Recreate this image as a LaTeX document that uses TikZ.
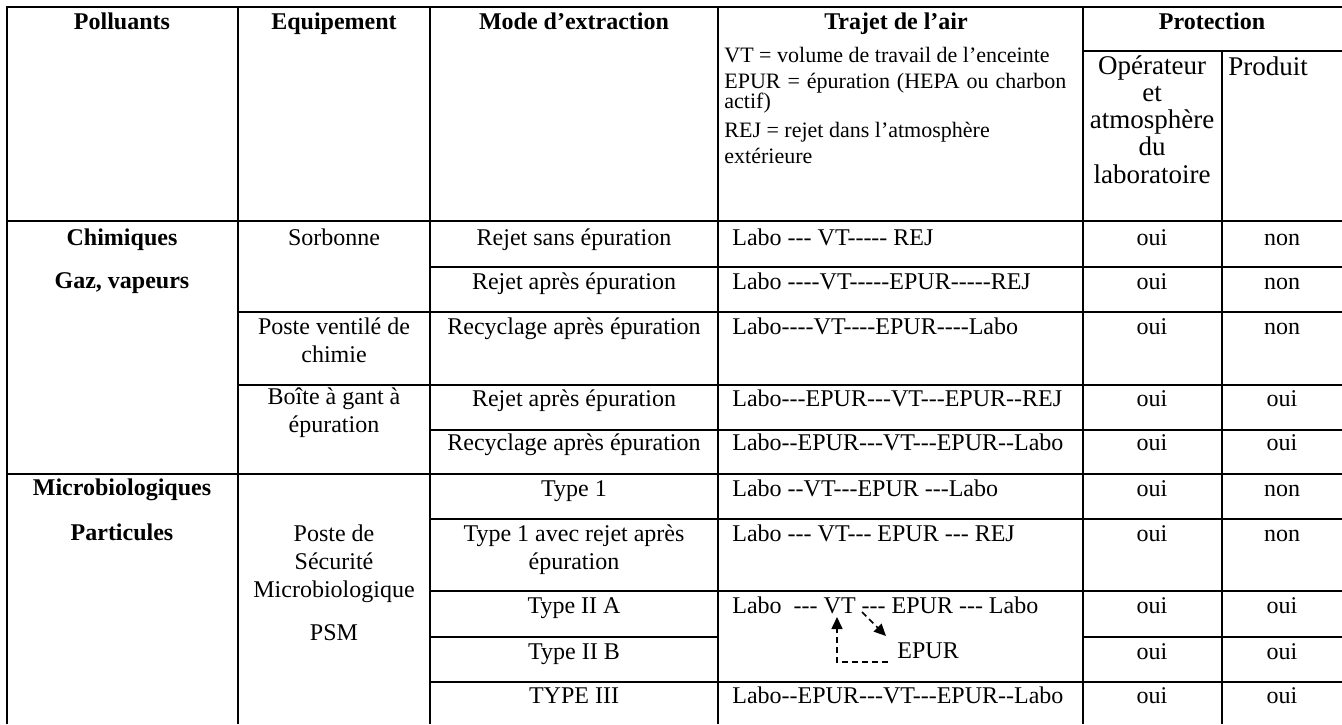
\documentclass[tikz,border=0pt]{standalone}
\usepackage{fontspec}
\setmainfont{Liberation Serif}
\newfontfamily\trfont{Liberation Serif}
\usetikzlibrary{arrows.meta}
\newcommand*{\twelve}{\fontsize{12}{13.8}\selectfont}

\begin{document}
\begin{tikzpicture}[x=0.5pt,y=-0.5pt,
    rule/.style={line width=1.1pt},
    hd/.style={font=\twelve\bfseries,anchor=base,inner sep=0pt,align=center},
    cell/.style={font=\twelve,anchor=base,inner sep=0pt,align=center},
    sub/.style={font=\fontsize{13.5}{13.6}\selectfont,anchor=base,inner sep=0pt,align=center},
    leg/.style={font=\fontsize{11}{12}\selectfont,anchor=base west,inner sep=0pt},
    trajet/.style={font=\twelve\trfont,anchor=base west,inner sep=0pt},
    flow/.style={dash pattern=on 3pt off 2pt,line width=0.8pt,-{Triangle[length=6pt,width=5.5pt]}}]
  \useasboundingbox (0,0) rectangle (1342,724);
  % grid of the table
  \draw[rule] (7,724) -- (7,7) -- (1342,7);
  \draw[rule] (238,7) -- (238,724) (430,7) -- (430,724)
    (718,7) -- (718,724) (1083,7) -- (1083,724) (1222,51) -- (1222,724);
  \draw[rule] (1083,51) -- (1342,51) (7,221) -- (1342,221) (430,267) -- (1342,267)
    (238,312) -- (1342,312) (238,385) -- (1342,385) (430,430) -- (1342,430)
    (7,474) -- (1342,474) (430,519) -- (1342,519) (430,591) -- (1342,591)
    (430,637) -- (718,637) (1083,637) -- (1342,637) (430,682) -- (1342,682);
  % header
  \node[hd] (pol) at (122,29) {Polluants};
  \node[hd] (equ) at (334,29) {Equipement};
  \node[hd] (mode) at (574,29) {Mode d’extraction};
  \node[hd] (traj) at (896,29) {Trajet de l’air};
  \node[hd] (prot) at (1212,29) {Protection};
  \node[leg] (lvt) at (724,62) {VT = volume de travail de l’enceinte};
  \node[leg] (lep) at (724,88) {\makebox[171pt][s]{EPUR = épuration (HEPA ou charbon}};
  \node[leg] (lep2) at (724,108) {actif)};
  \node[leg] (lrej) at (724,137) {REJ = rejet dans l’atmosphère};
  \node[leg] (lrej2) at (724,163) {extérieure};
  \node[sub] (oper) at (1152,183) {Opérateur\\et\\atmosphère\\du\\laboratoire};
  \node[sub,anchor=base west] (prod) at (1228,75) {Produit};
  % polluants
  \node[hd] (chim) at (122,245) {Chimiques};
  \node[hd] (gaz) at (122,288) {Gaz, vapeurs};
  \node[hd] (micro) at (122,495) {Microbiologiques};
  \node[hd] (part) at (122,540) {Particules};
  % equipement
  \node[cell] (sorb) at (334,245) {Sorbonne};
  \node[cell] (pvc) at (334,362) {Poste ventilé de\\chimie};
  \node[cell] (bag) at (334,432) {Boîte à gant à\\épuration};
  \node[cell] (psm) at (334,597) {Poste de\\Sécurité\\Microbiologique};
  \node[cell] (psm2) at (334,640) {PSM};
  % mode d'extraction
  \node[cell] (m1) at (574,245) {Rejet sans épuration};
  \node[cell] (m2) at (574,289) {Rejet après épuration};
  \node[cell] (m3) at (574,334) {Recyclage après épuration};
  \node[cell] (m4) at (574,406) {Rejet après épuration};
  \node[cell] (m5) at (574,450) {Recyclage après épuration};
  \node[cell] (m6) at (574,496) {Type 1};
  \node[cell] (m7) at (574,569) {Type 1 avec rejet après\\épuration};
  \node[cell] (m8) at (574,613) {Type II A};
  \node[cell] (m9) at (574,659) {Type II B};
  \node[cell] (m10) at (574,703) {TYPE III};
  % trajet de l'air
  \node[trajet] (t1) at (732,245) {Labo --- VT----- REJ};
  \node[trajet] (t2) at (732,289) {Labo ----VT-----EPUR-----REJ};
  \node[trajet] (t3) at (732,334) {Labo----VT----EPUR----Labo};
  \node[trajet] (t4) at (732,406) {Labo---EPUR---VT---EPUR--REJ};
  \node[trajet] (t5) at (732,450) {Labo--EPUR---VT---EPUR--Labo};
  \node[trajet] (t6) at (732,496) {Labo --VT---EPUR ---Labo};
  \node[trajet] (t7) at (732,541) {Labo --- VT--- EPUR --- REJ};
  \node[trajet] (t8) at (732,613) {Labo~ --- VT --- EPUR --- Labo};
  \node[trajet] (t9) at (897,658) {EPUR};
  \node[trajet] (t10) at (732,703) {Labo--EPUR---VT---EPUR--Labo};
  \coordinate (vtin) at (837,617);
  \coordinate (vtout) at (862,612);
  \coordinate (epin) at (886,636);
  \coordinate (back) at (888,662);
  \draw[flow] (back) -| (vtin);
  \draw[flow] (vtout) -- (epin);
  % protection
  \node[cell] (o1) at (1152,245) {oui};  \node[cell] (p1) at (1282,245) {non};
  \node[cell] (o2) at (1152,289) {oui};  \node[cell] (p2) at (1282,289) {non};
  \node[cell] (o3) at (1152,334) {oui};  \node[cell] (p3) at (1282,334) {non};
  \node[cell] (o4) at (1152,406) {oui};  \node[cell] (p4) at (1282,406) {oui};
  \node[cell] (o5) at (1152,450) {oui};  \node[cell] (p5) at (1282,450) {oui};
  \node[cell] (o6) at (1152,496) {oui};  \node[cell] (p6) at (1282,496) {non};
  \node[cell] (o7) at (1152,541) {oui};  \node[cell] (p7) at (1282,541) {non};
  \node[cell] (o8) at (1152,613) {oui};  \node[cell] (p8) at (1282,613) {oui};
  \node[cell] (o9) at (1152,659) {oui};  \node[cell] (p9) at (1282,659) {oui};
  \node[cell] (o10) at (1152,703) {oui}; \node[cell] (p10) at (1282,703) {oui};
\end{tikzpicture}
\end{document}
